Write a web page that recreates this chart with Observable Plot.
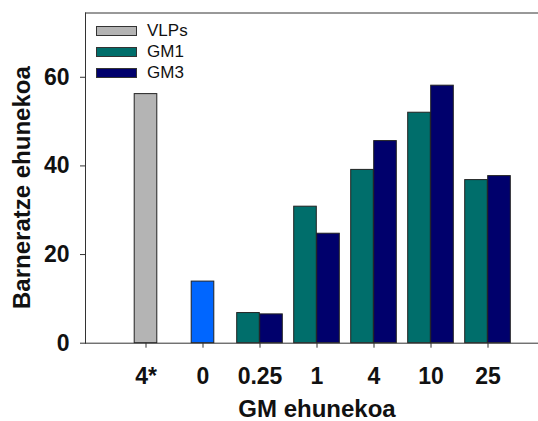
<!DOCTYPE html>
<html><head><meta charset="utf-8">
<script src="https://cdn.jsdelivr.net/npm/d3@7"></script>
<script src="https://cdn.jsdelivr.net/npm/@observablehq/plot@0.6"></script>
<style>
body{margin:0;background:#fff;font-family:"Liberation Sans",Arial,sans-serif;}
#wrap{position:relative;width:538px;height:421px;}
#legend{position:absolute;left:96px;top:20px;font-size:17px;color:#111;line-height:21px;}
#legend .item{display:flex;align-items:center;height:21px;}
#legend .sw{width:39px;height:8px;border:1px solid #333;margin-right:10px;}
</style></head><body><div id="wrap"><div id="legend"></div></div>
<script>
const categories = ["4*", "0", "0.25", "1", "4", "10", "25"];
const vlpsCategories = ["4*"];
const vlpsValues = [56.2];
const controlCategories = ["0"];
const controlValues = [13.9];
const gmCategories = ["0.25", "1", "4", "10", "25"];
const gm1Values = [6.8, 30.8, 39.1, 52.0, 36.8];
const gm3Values = [6.5, 24.7, 45.6, 58.1, 37.7];
const yTicks = [0, 20, 40, 60];
const yMax = 74.5;
const seriesNames = ["VLPs", "GM1", "GM3"];
const seriesColors = ["#b4b4b4", "#006e6b", "#00006c"];
const controlColor = "#0066ff";

const toRows = (cats, vals) => cats.map((c, i) => ({cat: c, value: vals[i]}));
const vlps = toRows(vlpsCategories, vlpsValues);
const ctrl = toRows(controlCategories, controlValues);
const gm1 = toRows(gmCategories, gm1Values);
const gm3 = toRows(gmCategories, gm3Values);

const inset = 17.2;
const barStyle = {x: "cat", y: "value", stroke: "#222", strokeWidth: 1, insetLeft: inset, insetRight: inset};

const chart = Plot.plot({
  width: 538,
  height: 421,
  marginLeft: 85,
  marginRight: 0,
  marginTop: 12.5,
  marginBottom: 78.3,
  style: {fontFamily: "'Liberation Sans', Arial, sans-serif", fontSize: "23px", fontWeight: "bold", color: "#111", background: "#fff"},
  x: {domain: categories, range: [115, 517], padding: 0},
  y: {domain: [0, yMax]},
  marks: [
    Plot.barY(vlps, {...barStyle, fill: seriesColors[0]}),
    Plot.barY(ctrl, {...barStyle, fill: controlColor}),
    Plot.barY(gm1, {...barStyle, fill: seriesColors[1], dx: -11.5}),
    Plot.barY(gm3, {...barStyle, fill: seriesColors[2], dx: 11.5}),
    Plot.frame({anchor: "top", stroke: "#333"}),
    Plot.frame({anchor: "left", stroke: "#333"}),
    Plot.frame({anchor: "bottom", stroke: "#333"}),
    Plot.axisY({ticks: yTicks, tickSize: 5, tickPadding: 11, label: null, fontSize: 23, fontWeight: "bold", stroke: "#333"}),
    Plot.axisX({tickSize: 5, tickPadding: 19, label: null, fontSize: 23, fontWeight: "bold", stroke: "#333"}),
    Plot.text(["Barneratze ehunekoa"], {frameAnchor: "left", textAnchor: "middle", rotate: -90, dx: -63, dy: 9.5, fontSize: 24, fontWeight: "bold", fill: "#111"}),
    Plot.text(["GM ehunekoa"], {frameAnchor: "bottom", dx: 5, dy: 74, fontSize: 24, fontWeight: "bold", fill: "#111"})
  ]
});
document.getElementById("wrap").appendChild(chart);

const legend = document.getElementById("legend");
seriesNames.forEach((name, i) => {
  const item = document.createElement("div");
  item.className = "item";
  const sw = document.createElement("span");
  sw.className = "sw";
  sw.style.background = seriesColors[i];
  const t = document.createElement("span");
  t.textContent = name;
  item.appendChild(sw);
  item.appendChild(t);
  legend.appendChild(item);
});
</script>
</body></html>
